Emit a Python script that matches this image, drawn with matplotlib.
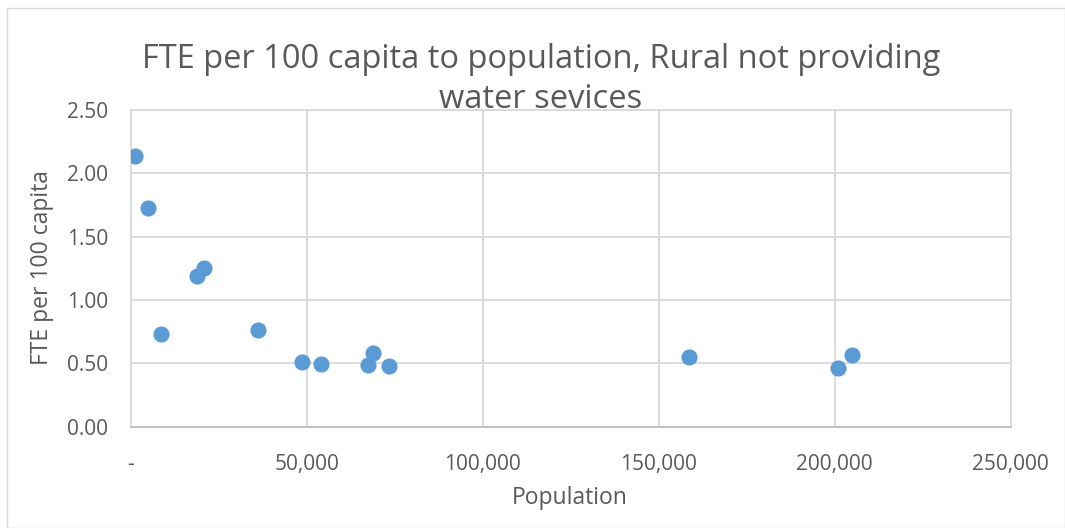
import matplotlib
matplotlib.use("Agg")
import matplotlib.pyplot as plt
from matplotlib.patches import Rectangle
from matplotlib.ticker import FuncFormatter

population = [1300, 4800, 8600, 18800, 20900, 36300, 48700, 54200, 67500, 68800, 73300, 158500, 200900, 205000]
fte_per_100 = [2.14, 1.73, 0.73, 1.19, 1.255, 0.765, 0.51, 0.495, 0.49, 0.58, 0.48, 0.55, 0.46, 0.565]

x_ticks = [0, 50000, 100000, 150000, 200000, 250000]
y_ticks = [0.0, 0.5, 1.0, 1.5, 2.0, 2.5]

title_lines = ["FTE per 100 capita to population, Rural not providing", "water sevices"]
xlabel = "Population"
ylabel = "FTE per 100 capita"

plt.rcParams['font.family'] = ['Open Sans', 'DejaVu Sans']
txt = '#595959'

fig = plt.figure(figsize=(10.65, 5.28), dpi=100)
fig.patches.append(Rectangle((7/1065, 0), 1 - 7/1065, 1 - 8/528, transform=fig.transFigure,
                             fill=False, edgecolor='#d9d9d9', linewidth=1.0))

ax = fig.add_axes([0.1227, 0.1919, 0.949 - 0.1227, 0.7917 - 0.1919])
ax.scatter(population, fte_per_100, s=135, color='#5b9bd5', zorder=3, linewidths=0)

ax.set_xlim(0, 250000)
ax.set_ylim(0, 2.5)
ax.set_xticks(x_ticks)
ax.set_yticks(y_ticks)
ax.xaxis.set_major_formatter(FuncFormatter(lambda v, p: '-' if v == 0 else f"{int(v):,}"))
ax.yaxis.set_major_formatter(FuncFormatter(lambda v, p: f"{v:.2f}"))
ax.grid(True, color='#d9d9d9', linewidth=1.3)
ax.set_axisbelow(True)
for s in ['top', 'right', 'left']:
    ax.spines[s].set_color('#d9d9d9')
    ax.spines[s].set_linewidth(1.3)
ax.spines['bottom'].set_color('#bfbfbf')
ax.spines['bottom'].set_linewidth(1.3)
ax.tick_params(length=0, labelsize=15, colors=txt)
ax.tick_params(axis='y', pad=16)
ax.tick_params(axis='x', pad=20)

fig.text(0.508, 1 - 60/528, title_lines[0], ha='center', va='center', fontsize=23.5, color=txt)
fig.text(0.508, 1 - 100/528, title_lines[1], ha='center', va='center', fontsize=23.5, color=txt)
fig.text(570/1065, 1 - 498/528, xlabel, ha='center', va='center', fontsize=16.5, color=txt)
fig.text(42/1065, 1 - 268/528, ylabel, ha='center', va='center', rotation=90, fontsize=16.5, color=txt)

fig.savefig("out.png", dpi=100)
